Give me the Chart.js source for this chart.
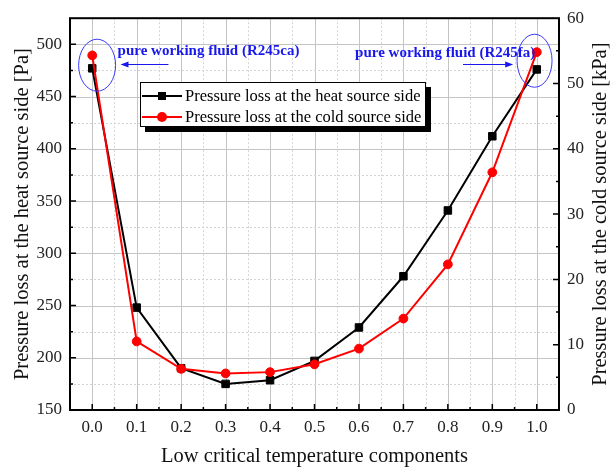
<!DOCTYPE html>
<html>
<head>
<meta charset="utf-8">
<script src="https://cdn.jsdelivr.net/npm/chart.js@4/dist/chart.umd.min.js"></script>
<style>
  html, body { margin: 0; padding: 0; background: #fff; }
  #wrap { width: 610px; height: 467px; }
</style>
</head>
<body>
<div id="wrap"><canvas id="c" width="610" height="467"></canvas></div>
<script>
// Mole fraction of the low critical temperature component
const fractions = [0.0, 0.1, 0.2, 0.3, 0.4, 0.5, 0.6, 0.7, 0.8, 0.9, 1.0];
// Pressure loss at the heat source side [Pa]
const heatLossPa = [477, 248, 190, 175, 178.5, 197, 229, 278, 341, 412, 476];
// Pressure loss at the cold source side [kPa]
const coldLossKPa = [54.3, 10.5, 6.3, 5.6, 5.8, 7.0, 9.4, 14.0, 22.3, 36.4, 54.8];

const xTickValues = [0.0, 0.1, 0.2, 0.3, 0.4, 0.5, 0.6, 0.7, 0.8, 0.9, 1.0];
const leftTickValues = [150, 200, 250, 300, 350, 400, 450, 500];
const rightTickValues = [0, 10, 20, 30, 40, 50, 60];

const heatLabel = 'Pressure loss at the heat source side';
const coldLabel = 'Pressure loss at the cold source side';
const xTitle = 'Low critical temperature components';
const leftTitle = 'Pressure loss at the heat source side [Pa]';
const rightTitle = 'Pressure loss at the cold source side [kPa]';
const noteLeft = 'pure working fluid (R245ca)';
const noteRight = 'pure working fluid (R245fa)';

const SERIF = '"Liberation Serif", "Times New Roman", serif';
const BLUE = '#1818ee';

const heatPoints = fractions.map((x, i) => ({ x, y: heatLossPa[i] }));
const coldPoints = fractions.map((x, i) => ({ x, y: coldLossKPa[i] }));

// Grid, inward tick marks, frame, legend box and the two callouts
const decorations = {
  id: 'decorations',
  beforeDatasetsDraw(chart) {
    const { ctx, chartArea: a, scales } = chart;
    const xs = scales.x, yl = scales.y, yr = scales.y1;
    ctx.save();
    // vertical grid (every 0.05, solid on the 0.1 steps)
    for (let h = 0; h <= 100; h += 5) {
      const px = Math.round(xs.getPixelForValue(h / 100)) + 0.5;
      const major = h % 10 === 0;
      ctx.beginPath();
      ctx.strokeStyle = major ? '#c4c4c4' : '#d4d4d4';
      ctx.lineWidth = 1;
      ctx.setLineDash(major ? [] : [2, 2]);
      ctx.moveTo(px, a.top); ctx.lineTo(px, a.bottom);
      ctx.stroke();
    }
    // horizontal grid from the left axis (every 25 Pa, solid on 50 Pa)
    for (let v = 175; v <= 500; v += 25) {
      const py = Math.round(yl.getPixelForValue(v)) + 0.5;
      const major = v % 50 === 0;
      ctx.beginPath();
      ctx.strokeStyle = major ? '#c4c4c4' : '#d4d4d4';
      ctx.lineWidth = 1;
      ctx.setLineDash(major ? [] : [2, 2]);
      ctx.moveTo(a.left, py); ctx.lineTo(a.right, py);
      ctx.stroke();
    }
    ctx.setLineDash([]);
    // inward tick marks
    ctx.strokeStyle = '#000';
    ctx.lineWidth = 1.5;
    ctx.beginPath();
    for (let h = 0; h <= 100; h += 5) {
      const px = xs.getPixelForValue(h / 100);
      const len = h % 10 === 0 ? 6 : 3;
      ctx.moveTo(px, a.bottom); ctx.lineTo(px, a.bottom - len);
    }
    for (let v = 175; v <= 500; v += 25) {
      const py = yl.getPixelForValue(v);
      const len = v % 50 === 0 ? 6 : 3;
      ctx.moveTo(a.left, py); ctx.lineTo(a.left + len, py);
    }
    for (let v = 5; v <= 55; v += 5) {
      const py = yr.getPixelForValue(v);
      const len = v % 10 === 0 ? 6 : 3;
      ctx.moveTo(a.right, py); ctx.lineTo(a.right - len, py);
    }
    ctx.stroke();
    // frame
    ctx.lineWidth = 2;
    ctx.strokeRect(a.left, a.top, a.right - a.left, a.bottom - a.top);
    ctx.restore();
  },
  afterDatasetsDraw(chart) {
    const { ctx, scales } = chart;
    const xs = scales.x, yl = scales.y;
    ctx.save();

    // legend box with drop shadow
    const lx = 140, ly = 82, lw = 286, lh = 45;
    ctx.fillStyle = '#000';
    ctx.fillRect(lx + 5, ly + 5, lw, lh);
    ctx.fillStyle = '#fff';
    ctx.fillRect(lx, ly, lw, lh);
    ctx.strokeStyle = '#000';
    ctx.lineWidth = 1;
    ctx.strokeRect(lx + 0.5, ly + 0.5, lw - 1, lh - 1);
    const rows = [
      { ds: chart.data.datasets[0], y: 96 },
      { ds: chart.data.datasets[1], y: 117 }
    ];
    rows.forEach(r => {
      ctx.strokeStyle = r.ds.borderColor;
      ctx.lineWidth = 2;
      ctx.beginPath();
      ctx.moveTo(lx + 2, r.y); ctx.lineTo(lx + 42, r.y);
      ctx.stroke();
      ctx.fillStyle = r.ds.pointBackgroundColor;
      ctx.beginPath();
      if (r.ds.pointStyle === 'rect') {
        ctx.rect(lx + 22 - 4, r.y - 4, 8, 8);
      } else {
        ctx.arc(lx + 22, r.y, 5, 0, Math.PI * 2);
      }
      ctx.fill();
      ctx.fillStyle = '#000';
      ctx.font = '16.5px ' + SERIF;
      ctx.textAlign = 'left';
      ctx.textBaseline = 'middle';
      ctx.fillText(r.ds.label, lx + 45, r.y + 0.5);
    });

    // callouts for the two pure fluids
    ctx.strokeStyle = '#3a3aff';
    ctx.lineWidth = 1;
    const ellipse = (xv, yv, rx, ry) => {
      ctx.beginPath();
      ctx.ellipse(xs.getPixelForValue(xv), yl.getPixelForValue(yv), rx, ry, 0, 0, Math.PI * 2);
      ctx.stroke();
    };
    ellipse(0.011, 480, 18.5, 26);
    ellipse(0.995, 484.3, 17.5, 26.5);

    ctx.fillStyle = BLUE;
    ctx.font = 'bold 15px ' + SERIF;
    ctx.textBaseline = 'middle';
    ctx.textAlign = 'left';
    ctx.fillText(noteLeft, xs.getPixelForValue(0.057), yl.getPixelForValue(493.3));
    ctx.textAlign = 'right';
    ctx.fillText(noteRight, xs.getPixelForValue(0.9966), yl.getPixelForValue(491.7));

    const arrow = (x0v, x1v, yv) => {
      const x0 = xs.getPixelForValue(x0v), x1 = xs.getPixelForValue(x1v);
      const y = Math.round(yl.getPixelForValue(yv)) + 0.5;
      const dir = Math.sign(x1 - x0);
      ctx.strokeStyle = BLUE;
      ctx.lineWidth = 1;
      ctx.beginPath();
      ctx.moveTo(x0, y); ctx.lineTo(x1 - dir * 6, y);
      ctx.stroke();
      ctx.fillStyle = BLUE;
      ctx.beginPath();
      ctx.moveTo(x1, y);
      ctx.lineTo(x1 - dir * 8, y - 3);
      ctx.lineTo(x1 - dir * 8, y + 3);
      ctx.closePath();
      ctx.fill();
    };
    arrow(0.1715, 0.0636, 481.2);
    arrow(0.834, 0.947, 481.2);

    // right axis title, reading bottom to top
    const a = chart.chartArea;
    ctx.fillStyle = '#111';
    ctx.font = '20.5px ' + SERIF;
    ctx.textAlign = 'center';
    ctx.textBaseline = 'middle';
    ctx.translate(601, (a.top + a.bottom) / 2);
    ctx.rotate(-Math.PI / 2);
    ctx.fillText(rightTitle, 0, 0);
    ctx.restore();
  }
};

const tickFont = { family: SERIF, size: 17 };

new Chart(document.getElementById('c'), {
  type: 'line',
  data: {
    datasets: [
      {
        label: heatLabel,
        data: heatPoints,
        yAxisID: 'y',
        order: 1,
        borderColor: '#000',
        borderWidth: 2,
        pointStyle: 'rect',
        pointRadius: 5.3,
        pointBorderWidth: 1,
        pointBackgroundColor: '#000',
        pointBorderColor: '#000',
        tension: 0
      },
      {
        label: coldLabel,
        data: coldPoints,
        yAxisID: 'y1',
        order: 0,
        borderColor: '#ff0000',
        borderWidth: 2,
        pointStyle: 'circle',
        pointRadius: 4.4,
        pointBorderWidth: 1,
        pointBackgroundColor: '#ff0000',
        pointBorderColor: '#ff0000',
        tension: 0
      }
    ]
  },
  options: {
    responsive: false,
    animation: false,
    devicePixelRatio: 1,
    layout: { padding: { top: 16, left: 0, right: 0, bottom: 0 } },
    plugins: { legend: { display: false }, tooltip: { enabled: false } },
    scales: {
      x: {
        type: 'linear',
        min: -0.05,
        max: 1.05,
        afterBuildTicks: s => { s.ticks = xTickValues.map(v => ({ value: v })); },
        afterFit: s => { s.height = 57; },
        grid: { display: false, drawTicks: false },
        border: { display: false },
        ticks: {
          font: tickFont, color: '#222', padding: 7, maxRotation: 0,
          autoSkip: false,
          callback: v => Number(v).toFixed(1)
        },
        title: {
          display: true, text: xTitle, color: '#111',
          font: { family: SERIF, size: 20.5, lineHeight: 1 },
          padding: { top: 0, bottom: 0 }
        }
      },
      y: {
        type: 'linear',
        position: 'left',
        min: 150,
        max: 525,
        afterBuildTicks: s => { s.ticks = leftTickValues.map(v => ({ value: v })); },
        afterFit: s => { s.width = 70; },
        grid: { display: false, drawTicks: false },
        border: { display: false },
        ticks: { font: tickFont, color: '#222', padding: 8, autoSkip: false },
        title: {
          display: true, text: leftTitle, color: '#111',
          font: { family: SERIF, size: 20.5, lineHeight: 1.2 },
          padding: { top: 10, bottom: 0 }
        }
      },
      y1: {
        type: 'linear',
        position: 'right',
        min: 0,
        max: 60,
        afterBuildTicks: s => { s.ticks = rightTickValues.map(v => ({ value: v })); },
        afterFit: s => { s.width = 51; },
        grid: { display: false, drawTicks: false },
        border: { display: false },
        ticks: { font: tickFont, color: '#222', padding: 8, autoSkip: false }
      }
    }
  },
  plugins: [decorations]
});
</script>
</body>
</html>
